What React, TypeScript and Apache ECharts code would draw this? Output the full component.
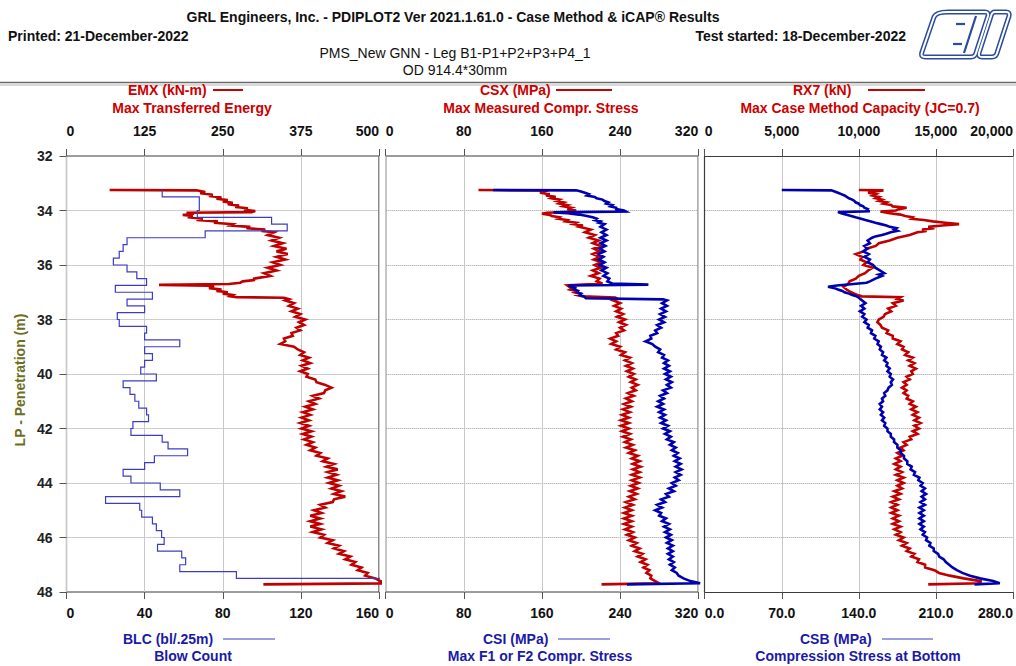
import React, { useEffect, useRef } from "react";
import * as echarts from "echarts";

// ---------------- data (depth m, value) ----------------
const depthAxis = { min: 32, max: 48, interval: 2 };
const emxAxis = { min: 0, max: 500, interval: 125 };
const blcAxis = { min: 0, max: 160, interval: 40 };
const csxAxis = { min: 0, max: 320, interval: 80 };
const csiAxis = { min: 0, max: 320, interval: 80 };
const rx7Axis = { min: 0, max: 20000, interval: 5000 };
const csbAxis = { min: 0, max: 280, interval: 70 };

const emx: [number, number][] = [
  [33.25, 69], [33.26, 208], [33.32, 222], [33.37, 214], [33.42, 234], [33.47, 228], [33.52, 248], [33.57, 240],
  [33.62, 258], [33.67, 250], [33.72, 266], [33.77, 258], [33.82, 276], [33.87, 270], [33.92, 290], [33.97, 284],
  [34.02, 302], [34.06, 296], [34.08, 192], [34.12, 204], [34.16, 186], [34.2, 202], [34.25, 194], [34.3, 218],
  [34.35, 208], [34.4, 242], [34.45, 236], [34.5, 266], [34.55, 262], [34.6, 294], [34.65, 288], [34.7, 318],
  [34.75, 312], [34.8, 332], [34.9, 322], [35.0, 340], [35.1, 328], [35.2, 346], [35.3, 332], [35.4, 352],
  [35.5, 336], [35.6, 354], [35.7, 336], [35.8, 350], [35.9, 330], [36.0, 342], [36.1, 322], [36.2, 336],
  [36.3, 316], [36.4, 326], [36.5, 300], [36.55, 300], [36.6, 282], [36.65, 278], [36.7, 260], [36.73, 148],
  [36.76, 228], [36.8, 236], [36.85, 228], [36.9, 248], [36.95, 240], [37.0, 258], [37.05, 250], [37.1, 266],
  [37.15, 262], [37.18, 272], [37.2, 348], [37.25, 356], [37.3, 350], [37.4, 364], [37.5, 356], [37.6, 370],
  [37.7, 360], [37.8, 374], [37.9, 366], [38.0, 382], [38.1, 372], [38.2, 380], [38.3, 368], [38.4, 374],
  [38.5, 360], [38.6, 362], [38.7, 348], [38.8, 350], [38.9, 342], [39.0, 364], [39.1, 370], [39.2, 380],
  [39.3, 374], [39.4, 388], [39.5, 378], [39.6, 390], [39.7, 376], [39.8, 386], [39.9, 374], [40.0, 386],
  [40.1, 384], [40.2, 398], [40.3, 400], [40.4, 414], [40.5, 424], [40.6, 414], [40.7, 412], [40.8, 394],
  [40.9, 404], [41.0, 388], [41.1, 398], [41.2, 382], [41.3, 394], [41.4, 378], [41.5, 390], [41.6, 376],
  [41.7, 388], [41.8, 374], [41.9, 388], [42.0, 376], [42.1, 392], [42.2, 378], [42.3, 392], [42.4, 380],
  [42.5, 394], [42.6, 384], [42.7, 398], [42.8, 390], [42.9, 406], [43.0, 400], [43.1, 418], [43.2, 410],
  [43.3, 428], [43.4, 416], [43.5, 434], [43.6, 418], [43.7, 432], [43.8, 418], [43.9, 434], [44.0, 420],
  [44.1, 436], [44.2, 424], [44.3, 440], [44.4, 428], [44.5, 446], [44.6, 428], [44.7, 426], [44.8, 406],
  [44.9, 414], [45.0, 396], [45.1, 408], [45.2, 390], [45.3, 406], [45.4, 390], [45.5, 406], [45.6, 390],
  [45.7, 408], [45.8, 394], [45.9, 412], [46.0, 406], [46.1, 426], [46.2, 418], [46.3, 436], [46.4, 428],
  [46.5, 444], [46.6, 436], [46.7, 454], [46.8, 446], [46.9, 462], [47.0, 456], [47.1, 472], [47.2, 466],
  [47.3, 482], [47.4, 478], [47.5, 494], [47.6, 502], [47.68, 515], [47.72, 315],
];

// blow count per 0.25 m interval (interval top depth, value)
const blcTop = [
  33.25, 33.5, 33.75, 34.0, 34.25, 34.5, 34.75, 35.0, 35.25, 35.5, 35.75, 36.0, 36.25, 36.5, 36.75, 37.0,
  37.25, 37.5, 37.75, 38.0, 38.25, 38.5, 38.75, 39.0, 39.25, 39.5, 39.75, 40.0, 40.25, 40.5, 40.75, 41.0,
  41.25, 41.5, 41.75, 42.0, 42.25, 42.5, 42.75, 43.0, 43.25, 43.5, 43.75, 44.0, 44.25, 44.5, 44.75, 45.0,
  45.25, 45.5, 45.75, 46.0, 46.25, 46.5, 46.75, 47.0, 47.25, 47.5,
];
const blcValue = [
  49, 68, 68, 67, 105, 113, 71, 31, 29, 27, 24, 31, 36, 41, 25, 44,
  31, 40, 26, 27, 41, 40, 58, 40, 44, 40, 38, 46, 29, 32.5, 35, 37,
  41, 42, 34, 33, 49, 52, 62, 45, 40, 29, 33, 48, 58, 20, 37.5, 38.5,
  44, 46, 48.7, 50, 46.6, 59, 61, 58, 87, 175,
];
const blcBottom = 47.75;

const csx: [number, number][] = [
  [33.25, 95], [33.26, 160], [33.3, 163], [33.35, 158], [33.4, 168], [33.45, 164], [33.5, 174], [33.55, 170],
  [33.6, 178], [33.65, 175], [33.7, 182], [33.75, 178], [33.8, 186], [33.85, 182], [33.9, 190], [33.95, 186],
  [34.0, 195], [34.05, 190], [34.08, 165], [34.12, 160], [34.16, 168], [34.2, 170], [34.25, 178], [34.3, 176],
  [34.35, 186], [34.4, 184], [34.45, 195], [34.5, 192], [34.55, 202], [34.6, 198], [34.7, 210], [34.8, 204],
  [34.9, 214], [35.0, 208], [35.1, 218], [35.2, 212], [35.3, 220], [35.4, 213], [35.5, 219], [35.6, 212],
  [35.7, 219], [35.8, 213], [35.9, 221], [36.0, 214], [36.1, 220], [36.2, 212], [36.3, 218], [36.4, 210],
  [36.5, 219], [36.6, 216], [36.68, 222], [36.75, 186], [36.8, 188], [36.85, 192], [36.9, 189], [36.95, 195],
  [37.0, 193], [37.05, 199], [37.1, 196], [37.15, 202], [37.19, 235], [37.25, 238], [37.3, 233], [37.4, 240],
  [37.5, 234], [37.6, 241], [37.7, 236], [37.8, 243], [37.9, 237], [38.0, 245], [38.1, 239], [38.2, 246],
  [38.3, 240], [38.4, 244], [38.5, 236], [38.6, 238], [38.7, 230], [38.8, 236], [38.9, 231], [39.0, 240],
  [39.1, 236], [39.2, 245], [39.3, 241], [39.4, 250], [39.5, 245], [39.6, 252], [39.7, 246], [39.8, 253],
  [39.9, 247], [40.0, 254], [40.1, 249], [40.2, 256], [40.3, 251], [40.4, 258], [40.5, 252], [40.6, 256],
  [40.7, 248], [40.8, 254], [40.9, 246], [41.0, 252], [41.1, 244], [41.2, 251], [41.3, 243], [41.4, 250],
  [41.5, 242], [41.6, 249], [41.7, 241], [41.8, 249], [41.9, 241], [42.0, 249], [42.1, 242], [42.2, 250],
  [42.3, 243], [42.4, 251], [42.5, 245], [42.6, 253], [42.7, 246], [42.8, 255], [42.9, 249], [43.0, 258],
  [43.1, 252], [43.2, 260], [43.3, 253], [43.4, 261], [43.5, 253], [43.6, 260], [43.7, 252], [43.8, 260],
  [43.9, 252], [44.0, 259], [44.1, 251], [44.2, 258], [44.3, 250], [44.4, 257], [44.5, 249], [44.6, 255],
  [44.7, 246], [44.8, 253], [44.9, 245], [45.0, 252], [45.1, 244], [45.2, 252], [45.3, 244], [45.4, 252],
  [45.5, 244], [45.6, 252], [45.7, 245], [45.8, 253], [45.9, 247], [46.0, 255], [46.1, 249], [46.2, 257],
  [46.3, 252], [46.4, 260], [46.5, 255], [46.6, 263], [46.7, 258], [46.8, 266], [46.9, 261], [47.0, 268],
  [47.1, 264], [47.2, 270], [47.3, 267], [47.4, 272], [47.5, 271], [47.6, 276], [47.68, 280], [47.72, 221],
];

const csi: [number, number][] = [
  [33.25, 110], [33.26, 195], [33.3, 200], [33.35, 204], [33.4, 208], [33.45, 206], [33.5, 214], [33.55, 216],
  [33.6, 222], [33.65, 224], [33.7, 228], [33.75, 226], [33.8, 232], [33.85, 230], [33.9, 236], [33.95, 236],
  [34.0, 244], [34.04, 246], [34.07, 172], [34.1, 186], [34.15, 198], [34.2, 206], [34.25, 212], [34.3, 216],
  [34.35, 214], [34.4, 220], [34.45, 218], [34.5, 224], [34.6, 220], [34.7, 226], [34.8, 221], [34.9, 226],
  [35.0, 220], [35.1, 226], [35.2, 220], [35.3, 225], [35.4, 219], [35.5, 224], [35.6, 218], [35.7, 223],
  [35.8, 218], [35.9, 224], [36.0, 219], [36.1, 226], [36.2, 221], [36.3, 227], [36.4, 223], [36.5, 229],
  [36.6, 227], [36.68, 232], [36.72, 269], [36.75, 187], [36.8, 190], [36.85, 194], [36.9, 193], [36.95, 197],
  [37.0, 196], [37.05, 200], [37.1, 199], [37.15, 203], [37.22, 205], [37.26, 284], [37.3, 288], [37.4, 283],
  [37.5, 288], [37.6, 282], [37.7, 287], [37.8, 281], [37.9, 286], [38.0, 280], [38.1, 285], [38.2, 278],
  [38.3, 282], [38.4, 276], [38.5, 278], [38.6, 271], [38.7, 272], [38.8, 266], [38.9, 273], [39.0, 276],
  [39.1, 281], [39.2, 279], [39.3, 285], [39.4, 283], [39.5, 289], [39.6, 285], [39.7, 290], [39.8, 285],
  [39.9, 291], [40.0, 286], [40.1, 292], [40.2, 287], [40.3, 293], [40.4, 288], [40.5, 292], [40.6, 284],
  [40.7, 288], [40.8, 281], [40.9, 285], [41.0, 279], [41.1, 284], [41.2, 278], [41.3, 285], [41.4, 280],
  [41.5, 286], [41.6, 281], [41.7, 287], [41.8, 282], [41.9, 289], [42.0, 284], [42.1, 291], [42.2, 286],
  [42.3, 292], [42.4, 288], [42.5, 295], [42.6, 291], [42.7, 297], [42.8, 293], [42.9, 299], [43.0, 295],
  [43.1, 301], [43.2, 296], [43.3, 302], [43.4, 297], [43.5, 303], [43.6, 297], [43.7, 302], [43.8, 296],
  [43.9, 300], [44.0, 293], [44.1, 297], [44.2, 290], [44.3, 295], [44.4, 287], [44.5, 290], [44.6, 282],
  [44.7, 286], [44.8, 278], [44.9, 283], [45.0, 276], [45.1, 282], [45.2, 280], [45.3, 287], [45.4, 283],
  [45.5, 290], [45.6, 285], [45.7, 291], [45.8, 286], [45.9, 292], [46.0, 287], [46.1, 293], [46.2, 288],
  [46.3, 294], [46.4, 289], [46.5, 294], [46.6, 289], [46.7, 294], [46.8, 290], [46.9, 295], [47.0, 291],
  [47.1, 296], [47.2, 293], [47.3, 298], [47.4, 300], [47.5, 305], [47.6, 312], [47.68, 322], [47.72, 247],
];

const rx7: [number, number][] = [
  [33.25, 10000], [33.26, 11600], [33.3, 11000], [33.35, 10600], [33.4, 11100], [33.45, 10900], [33.5, 11300],
  [33.55, 11100], [33.6, 11500], [33.65, 11300], [33.7, 11800], [33.75, 11600], [33.8, 12100], [33.85, 12200],
  [33.9, 13100], [33.95, 12600], [34.0, 12400], [34.04, 11400], [34.1, 12000], [34.15, 12700], [34.2, 13000],
  [34.25, 13500], [34.3, 13400], [34.35, 14200], [34.4, 14800], [34.45, 15600], [34.5, 16500], [34.55, 15400],
  [34.6, 14500], [34.65, 14900], [34.7, 14100], [34.75, 14400], [34.8, 13800], [34.9, 13300], [35.0, 12500],
  [35.1, 12000], [35.2, 11300], [35.3, 11100], [35.4, 10500], [35.5, 10300], [35.6, 9800], [35.7, 10200],
  [35.8, 10100], [35.9, 10500], [36.0, 10300], [36.1, 10900], [36.2, 10600], [36.3, 10400], [36.4, 10000],
  [36.5, 9800], [36.6, 9400], [36.7, 9300], [36.8, 9000], [36.9, 9200], [37.0, 9500], [37.05, 9700],
  [37.1, 9900], [37.15, 10200], [37.18, 12700], [37.25, 12500], [37.3, 12900], [37.4, 12200], [37.5, 12400],
  [37.6, 11900], [37.7, 12100], [37.8, 11700], [37.9, 11600], [38.0, 11300], [38.1, 11200], [38.2, 11400],
  [38.3, 11500], [38.4, 11900], [38.5, 11800], [38.6, 12200], [38.7, 12200], [38.8, 12700], [38.9, 12500],
  [39.0, 12900], [39.1, 12800], [39.2, 13200], [39.3, 13000], [39.4, 13500], [39.5, 13200], [39.6, 13600],
  [39.7, 13300], [39.8, 13700], [39.9, 13400], [40.0, 13500], [40.1, 13100], [40.2, 13300], [40.3, 12900],
  [40.4, 13100], [40.5, 12800], [40.6, 13100], [40.7, 12900], [40.8, 13200], [40.9, 13100], [41.0, 13500],
  [41.1, 13300], [41.2, 13700], [41.3, 13400], [41.4, 13800], [41.5, 13500], [41.6, 13900], [41.7, 13600],
  [41.8, 14000], [41.9, 13600], [42.0, 13900], [42.1, 13500], [42.2, 13800], [42.3, 13300], [42.4, 13400],
  [42.5, 12900], [42.6, 13100], [42.7, 12700], [42.8, 12900], [42.9, 12500], [43.0, 12800], [43.1, 12400],
  [43.2, 12700], [43.3, 12300], [43.4, 12700], [43.5, 12400], [43.6, 12800], [43.7, 12400], [43.8, 12900],
  [43.9, 12500], [44.0, 12900], [44.1, 12500], [44.2, 12800], [44.3, 12300], [44.4, 12700], [44.5, 12200],
  [44.6, 12600], [44.7, 12100], [44.8, 12500], [44.9, 12100], [45.0, 12500], [45.1, 12100], [45.2, 12600],
  [45.3, 12200], [45.4, 12600], [45.5, 12200], [45.6, 12700], [45.7, 12300], [45.8, 12700], [45.9, 12400],
  [46.0, 12900], [46.1, 12600], [46.2, 13100], [46.3, 12800], [46.4, 13300], [46.5, 13100], [46.6, 13600],
  [46.7, 13400], [46.8, 13900], [46.9, 13800], [47.0, 14300], [47.1, 14300], [47.2, 14900], [47.3, 15200],
  [47.4, 15900], [47.5, 16800], [47.6, 17900], [47.68, 17900], [47.72, 14500],
];

const csb: [number, number][] = [
  [33.25, 70], [33.26, 115], [33.3, 118], [33.35, 121], [33.4, 124], [33.45, 127], [33.5, 129], [33.55, 131],
  [33.6, 134], [33.65, 136], [33.7, 137], [33.75, 140], [33.8, 141], [33.85, 144], [33.9, 145], [33.95, 148],
  [34.0, 147], [34.03, 150], [34.06, 121], [34.1, 124], [34.15, 128], [34.2, 133], [34.25, 137], [34.3, 142],
  [34.35, 146], [34.4, 151], [34.45, 155], [34.5, 160], [34.55, 165], [34.6, 168], [34.65, 174], [34.7, 172],
  [34.75, 175], [34.8, 169], [34.85, 165], [34.9, 161], [34.95, 155], [35.0, 152], [35.1, 148], [35.2, 150],
  [35.3, 145], [35.4, 148], [35.5, 144], [35.6, 149], [35.7, 145], [35.8, 150], [35.9, 148], [36.0, 153],
  [36.1, 155], [36.2, 159], [36.3, 163], [36.35, 158], [36.4, 161], [36.5, 155], [36.6, 150], [36.65, 147],
  [36.7, 135], [36.75, 120], [36.8, 112], [36.85, 118], [36.9, 121], [36.95, 125], [37.0, 127], [37.05, 131],
  [37.1, 134], [37.15, 138], [37.2, 140], [37.3, 143], [37.4, 146], [37.5, 142], [37.6, 145], [37.7, 141],
  [37.8, 145], [37.9, 143], [38.0, 147], [38.1, 145], [38.2, 149], [38.3, 148], [38.4, 152], [38.5, 151],
  [38.6, 155], [38.7, 154], [38.8, 158], [38.9, 157], [39.0, 160], [39.1, 159], [39.2, 162], [39.3, 161],
  [39.4, 165], [39.5, 163], [39.6, 166], [39.7, 165], [39.8, 168], [39.9, 166], [40.0, 169], [40.1, 168],
  [40.2, 171], [40.3, 169], [40.4, 170], [40.5, 167], [40.6, 166], [40.7, 163], [40.8, 164], [40.9, 161],
  [41.0, 162], [41.1, 159], [41.2, 161], [41.3, 159], [41.4, 162], [41.5, 160], [41.6, 163], [41.7, 161],
  [41.8, 164], [41.9, 163], [42.0, 166], [42.1, 166], [42.2, 169], [42.3, 169], [42.4, 172], [42.5, 172],
  [42.6, 175], [42.7, 175], [42.8, 178], [42.9, 178], [43.0, 181], [43.1, 181], [43.2, 184], [43.3, 184],
  [43.4, 188], [43.5, 187], [43.6, 191], [43.7, 190], [43.8, 195], [43.9, 194], [44.0, 198], [44.1, 196],
  [44.2, 200], [44.3, 197], [44.4, 201], [44.5, 197], [44.6, 200], [44.7, 196], [44.8, 200], [44.9, 195],
  [45.0, 199], [45.1, 195], [45.2, 199], [45.3, 195], [45.4, 199], [45.5, 195], [45.6, 199], [45.7, 196],
  [45.8, 200], [45.9, 198], [46.0, 202], [46.1, 201], [46.2, 205], [46.3, 204], [46.4, 208], [46.5, 208],
  [46.6, 212], [46.7, 213], [46.8, 217], [46.9, 219], [47.0, 222], [47.1, 225], [47.2, 229], [47.3, 234],
  [47.4, 241], [47.5, 250], [47.6, 262], [47.68, 268], [47.72, 245],
];

// ---------------- styling ----------------
const FONT = "'Liberation Sans', Arial, Helvetica, sans-serif";
const RED = "#c00000";
const RED_TXT = "#cc0000";
const BLUE = "#0000b0";
const BLUE_THIN = "#3c3cc4";
const BLUE_TXT = "#1a1aa8";
const BORDER = "#3c3c3c";

const LOGO_A =
  "M 948 12 L 985 12 Q 989 12 988 16 L 976 53 Q 975 57 971 57 L 925 57 Q 920 57 922 52 L 934 17 Q 936 12 948 12 Z";
const LOGO_B =
  "M 995 12 L 1006 12 Q 1010 12 1009 16 L 997 53 Q 996 57 992 57 L 982 57 Q 978 57 979 53 L 991 16 Q 992 12 995 12 Z";
echarts.graphic.registerShape("pdiLogoA", echarts.graphic.extendPath(LOGO_A, {}));
echarts.graphic.registerShape("pdiLogoB", echarts.graphic.extendPath(LOGO_B, {}));

function txt(x: number, y: number, text: string, color: string, align: string, weight = "bold", rotation = 0) {
  return {
    type: "text",
    x,
    y,
    rotation,
    silent: true,
    style: {
      text,
      fill: color,
      font: `${weight} 14px ${FONT}`,
      align,
      verticalAlign: "middle",
      textAlign: align,
      textVerticalAlign: "middle",
    },
  };
}
function seg(x1: number, y1: number, x2: number, y2: number, color: string, w: number) {
  return { type: "line", silent: true, shape: { x1, y1, x2, y2 }, style: { stroke: color, lineWidth: w } };
}

function xAx(
  gridIndex: number,
  position: "top" | "bottom",
  r: { min: number; max: number; interval: number },
  fmt: (v: number) => string,
  split: boolean,
  line: boolean
) {
  return {
    type: "value",
    gridIndex,
    position,
    min: r.min,
    max: r.max,
    interval: r.interval,
    axisLine: { show: line, lineStyle: { color: BORDER, width: 1.2 } },
    axisTick: { show: true, length: 7, lineStyle: { color: "#555" } },
    axisLabel: {
      show: true,
      margin: position === "top" ? 18 : 14,
      color: "#111",
      fontWeight: "bold",
      fontSize: 14,
      fontFamily: FONT,
      formatter: fmt,
      alignMinLabel: "left",
      alignMaxLabel: "right",
    },
    splitLine: { show: split, lineStyle: { color: "#c8c8c8", width: 1 } },
  };
}

function yAx(gridIndex: number) {
  return {
    type: "value",
    gridIndex,
    inverse: true,
    min: depthAxis.min,
    max: depthAxis.max,
    interval: depthAxis.interval,
    axisLine: { show: gridIndex === 2, lineStyle: { color: BORDER, width: 1.2 } },
    axisTick: { show: gridIndex === 0, length: 7, lineStyle: { color: "#555" } },
    axisLabel: {
      show: gridIndex === 0,
      margin: 14,
      color: "#222",
      fontWeight: "bold",
      fontSize: 14,
      fontFamily: FONT,
    },
    splitLine: { show: true, lineStyle: { type: "dotted", color: "#9a9a9a", width: 1 } },
  };
}

function lineSeries(data: [number, number][], xi: number, yi: number, color: string, width: number, z: number) {
  return {
    type: "line",
    xAxisIndex: xi,
    yAxisIndex: yi,
    data: data.map(([d, v]) => [v, d]),
    showSymbol: false,
    symbol: "none",
    clip: true,
    silent: true,
    z,
    lineStyle: { color, width, join: "miter", miterLimit: 4 },
  };
}

function blcPoints(): [number, number][] {
  const pts: [number, number][] = [];
  blcTop.forEach((top, i) => {
    const bottom = i + 1 < blcTop.length ? blcTop[i + 1] : blcBottom;
    pts.push([top, blcValue[i]]);
    pts.push([bottom, blcValue[i]]);
  });
  return pts;
}

function buildOption() {
  const plain = (v: number) => String(v);
  const thousands = (v: number) => (v === 0 ? "0" : v.toLocaleString("en-US"));
  const oneDec = (v: number) => v.toFixed(1);

  return {
    animation: false,
    backgroundColor: "#ffffff",
    textStyle: { fontFamily: FONT },
    grid: [
      { left: 66.5, top: 156, width: 312.5, height: 436, show: true, borderColor: BORDER, borderWidth: 1.2 },
      { left: 385.7, top: 156, width: 312.5, height: 436, show: true, borderColor: BORDER, borderWidth: 1.2 },
      { left: 704.7, top: 156, width: 311.5, height: 436, show: false },
    ],
    xAxis: [
      xAx(0, "top", emxAxis, plain, true, false),
      xAx(0, "bottom", blcAxis, plain, false, false),
      xAx(1, "top", csxAxis, plain, true, false),
      xAx(1, "bottom", csiAxis, plain, false, false),
      xAx(2, "top", rx7Axis, thousands, true, true),
      xAx(2, "bottom", csbAxis, oneDec, false, true),
    ],
    yAxis: [yAx(0), yAx(1), yAx(2)],
    series: [
      lineSeries(emx, 0, 0, RED, 2.6, 3),
      lineSeries(blcPoints(), 1, 0, BLUE_THIN, 1.2, 4),
      lineSeries(csx, 2, 1, RED, 2.6, 3),
      lineSeries(csi, 3, 1, BLUE, 2.6, 4),
      lineSeries(rx7, 4, 2, RED, 2.6, 3),
      lineSeries(csb, 5, 2, BLUE, 2.6, 4),
    ],
    graphic: [
      txt(453, 17, "GRL Engineers, Inc. - PDIPLOT2 Ver 2021.1.61.0 - Case Method & iCAP® Results", "#111", "center"),
      txt(8, 36, "Printed: 21-December-2022", "#111", "left"),
      txt(906, 36, "Test started: 18-December-2022", "#111", "right"),
      txt(455, 53, "PMS_New GNN - Leg B1-P1+P2+P3+P4_1", "#111", "center", "normal"),
      txt(455, 70, "OD 914.4*30mm", "#111", "center", "normal"),
      seg(0, 82.5, 1016, 82.5, "#6a6a6a", 1.5),
      seg(0, 85, 1016, 85, "#b4b4b4", 1),
      // top headers
      txt(128, 90, "EMX (kN-m)", RED_TXT, "left"),
      seg(213, 90, 243, 90, RED_TXT, 2),
      txt(192, 108, "Max Transferred Energy", RED_TXT, "center"),
      txt(480, 90, "CSX (MPa)", RED_TXT, "left"),
      seg(556, 90, 612, 90, RED_TXT, 2),
      txt(541, 108, "Max Measured Compr. Stress", RED_TXT, "center"),
      txt(793, 90, "RX7 (kN)", RED_TXT, "left"),
      seg(868, 90, 925, 90, RED_TXT, 2),
      txt(860, 108, "Max Case Method Capacity (JC=0.7)", RED_TXT, "center"),
      // bottom headers
      txt(123, 639, "BLC (bl/.25m)", BLUE_TXT, "left"),
      seg(223, 639, 275, 639, BLUE_THIN, 1.2),
      txt(193, 656, "Blow Count", BLUE_TXT, "center"),
      txt(483, 639, "CSI (MPa)", BLUE_TXT, "left"),
      seg(558, 639, 610, 639, BLUE_THIN, 1.2),
      txt(540, 656, "Max F1 or F2 Compr. Stress", BLUE_TXT, "center"),
      txt(800, 639, "CSB (MPa)", BLUE_TXT, "left"),
      seg(882, 639, 933, 639, BLUE_THIN, 1.2),
      txt(858, 656, "Compression Stress at Bottom", BLUE_TXT, "center"),
      // y-axis title
      txt(20, 380, "LP - Penetration (m)", "#6e6e22", "center", "bold", Math.PI / 2),
      // logo
      { type: "pdiLogoA", x: 0, y: 0, z: 10, silent: true, style: { fill: "#ffffff", stroke: "#2b4c9e", lineWidth: 5 } },
      { type: "pdiLogoA", x: 0, y: 0, z: 11, silent: true, style: { fill: "none", stroke: "#ffffff", lineWidth: 2 } },
      { type: "pdiLogoB", x: 0, y: 0, z: 10, silent: true, style: { fill: "#ffffff", stroke: "#2b4c9e", lineWidth: 5 } },
      { type: "pdiLogoB", x: 0, y: 0, z: 11, silent: true, style: { fill: "none", stroke: "#ffffff", lineWidth: 2 } },
      { ...seg(976, 16, 964, 53, "#2b4c9e", 2.2), z: 12 },
      { ...seg(956, 24, 965, 24, "#2b4c9e", 2.2), z: 12 },
      { ...seg(953, 44, 962, 44, "#2b4c9e", 2.2), z: 12 },
    ],
  };
}

export default function App() {
  const ref = useRef<HTMLDivElement>(null);
  useEffect(() => {
    if (!ref.current) return;
    const chart = echarts.init(ref.current, undefined, { renderer: "svg" });
    chart.setOption(buildOption() as any);
    return () => chart.dispose();
  }, []);
  return (
    <div
      ref={ref}
      style={{ position: "absolute", left: 0, top: 0, width: 1016, height: 666, background: "#ffffff" }}
    />
  );
}
